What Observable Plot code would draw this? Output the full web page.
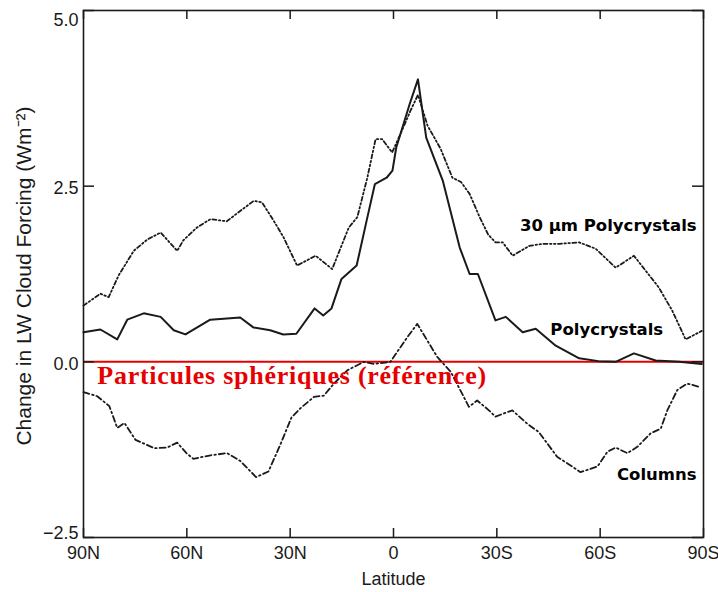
<!DOCTYPE html>
<html>
<head>
<meta charset="utf-8">
<script src="https://cdn.jsdelivr.net/npm/d3@7"></script>
<script src="https://cdn.jsdelivr.net/npm/@observablehq/plot@0.6"></script>
<style>
  html, body { margin: 0; padding: 0; background: #fff; }
  #chart svg { display: block; overflow: visible; }
</style>
</head>
<body>
<div id="chart"></div>
<script>
// Latitude: positive = North, negative = South
const polyLat = [90, 85.1, 80.2, 77.3, 72.5, 67.6, 63.8, 60.4, 53.2, 44.5, 40.7, 35.8, 32.0, 28.2, 22.9, 20.4, 18.0, 15.1, 10.7, 7.8, 5.4, 2.0, 0.3, -0.8, -4.7, -7.1, -9.5, -14.3, -19.2, -22.1, -24.5, -29.6, -32.6, -37.5, -41.3, -47.1, -53.9, -59.5, -64.5, -69.8, -76.1, -82.9, -89.5];
const polyVal = [0.42, 0.46, 0.32, 0.60, 0.69, 0.64, 0.45, 0.39, 0.60, 0.63, 0.49, 0.45, 0.39, 0.40, 0.76, 0.66, 0.76, 1.18, 1.37, 2.01, 2.53, 2.62, 2.72, 3.05, 3.67, 4.02, 3.19, 2.58, 1.63, 1.25, 1.25, 0.59, 0.64, 0.42, 0.47, 0.23, 0.05, 0.01, 0.00, 0.12, 0.02, 0.00, -0.03];

const poly30Lat = [90, 85.1, 82.7, 79.8, 75.4, 71.5, 67.6, 62.8, 61.0, 57.1, 53.2, 48.4, 45.5, 40.6, 38.2, 34.8, 31.9, 28.0, 22.6, 17.8, 13.0, 10.5, 7.6, 5.2, 3.3, 0.4, -2.0, -4.9, -7.1, -9.9, -13.7, -17.1, -19.6, -22.1, -25.0, -27.5, -29.6, -31.7, -34.6, -39.4, -43.3, -48.1, -53.9, -58.7, -64.5, -69.8, -77.0, -80.9, -84.8, -89.5];
const poly30Val = [0.80, 0.97, 0.92, 1.23, 1.58, 1.74, 1.84, 1.58, 1.73, 1.91, 2.03, 2.00, 2.11, 2.29, 2.27, 2.01, 1.77, 1.37, 1.51, 1.32, 1.91, 2.06, 2.62, 3.17, 3.17, 2.98, 3.24, 3.57, 3.80, 3.36, 3.03, 2.62, 2.56, 2.39, 2.06, 1.81, 1.70, 1.70, 1.51, 1.65, 1.68, 1.68, 1.70, 1.61, 1.34, 1.51, 1.06, 0.73, 0.32, 0.44];

const colLat = [90, 86.0, 82.5, 80.2, 78.1, 74.9, 69.4, 65.7, 62.8, 60.1, 58.1, 53.1, 48.3, 44.5, 39.9, 36.3, 32.7, 29.6, 27.0, 23.1, 20.2, 17.3, 13.4, 8.6, 5.7, 0.9, -4.0, -6.9, -12.7, -16.6, -21.9, -24.3, -27.7, -29.6, -34.5, -38.8, -42.2, -47.5, -54.3, -59.2, -62.1, -64.5, -67.9, -70.8, -74.6, -77.6, -79.5, -82.4, -85.3, -89.1];
const colVal = [-0.43, -0.49, -0.63, -0.94, -0.87, -1.11, -1.23, -1.22, -1.15, -1.30, -1.38, -1.33, -1.30, -1.41, -1.64, -1.56, -1.16, -0.79, -0.66, -0.50, -0.48, -0.31, -0.12, 0.00, -0.03, 0.00, 0.35, 0.54, 0.07, -0.14, -0.64, -0.55, -0.69, -0.78, -0.69, -0.88, -1.00, -1.35, -1.57, -1.49, -1.28, -1.22, -1.30, -1.21, -1.02, -0.95, -0.69, -0.40, -0.31, -0.36];

const referenceVal = [0];

const xTickValues = [90, 60, 30, 0, -30, -60, -90];
const xTickLabels = ["90N", "60N", "30N", "0", "30S", "60S", "90S"];
const yTickValues = [5, 2.5, 0, -2.5];
const yTickLabels = ["5.0", "2.5", "0.0", "\u22122.5"];

const seriesNames = ["30 µm Polycrystals", "Polycrystals", "Columns"];
const seriesLabelLat = [-88, -78.3, -88];
const seriesLabelVal = [1.93, 0.45, -1.61];
const referenceName = "Particules sphériques (référence)";
const referenceLabelLat = 86;
const referenceLabelVal = -0.19;

const xTitle = "Latitude";
const yTitle = "Change in LW Cloud Forcing (Wm\u207B\u00B2)";

const toRows = (lat, val) => lat.map((l, i) => ({lat: l, v: val[i]}));
const poly = toRows(polyLat, polyVal);
const poly30 = toRows(poly30Lat, poly30Val);
const col = toRows(colLat, colVal);
const labels = seriesNames.map((n, i) => ({name: n, lat: seriesLabelLat[i], v: seriesLabelVal[i]}));
const yTickRows = yTickValues.map((v, i) => ({v, label: yTickLabels[i]}));
const yDomain = [-2.5, 5];

const W = 718, H = 592;
const mL = 83, mR = 15, mT = 10, mB = 55;
const innerW = W - mL - mR, innerH = H - mT - mB;
const axisFont = "'Liberation Sans', Arial, sans-serif";
const ink = "#1a1a1a";
const tickText = {frameAnchor: "left", textAnchor: "end", dx: -5, fontSize: 18, fontFamily: axisFont, fill: ink, text: "label", y: "v"};

const chart = Plot.plot({
  width: W,
  height: H,
  marginLeft: mL,
  marginRight: mR,
  marginTop: mT,
  marginBottom: mB,
  style: {background: "#fff", color: ink, overflow: "visible"},
  x: {domain: [90, -90]},
  y: {domain: yDomain, axis: null},
  marks: [
    // reference line
    Plot.ruleY(referenceVal, {stroke: "#e60000", strokeWidth: 2}),
    // curves
    Plot.line(poly30, {x: "lat", y: "v", stroke: ink, strokeWidth: 1.8, strokeDasharray: "4,2.5,1.5,2.5,1.5,2.5"}),
    Plot.line(col, {x: "lat", y: "v", stroke: ink, strokeWidth: 1.8, strokeDasharray: "6,3,1.5,3"}),
    Plot.line(poly, {x: "lat", y: "v", stroke: ink, strokeWidth: 2}),
    // frame
    Plot.frame({stroke: ink, strokeWidth: 1.6}),
    // inward ticks
    Plot.ruleX(xTickValues, {stroke: ink, strokeWidth: 1.5, insetTop: innerH - 9}),
    Plot.ruleX(xTickValues, {stroke: ink, strokeWidth: 1.5, insetBottom: innerH - 9}),
    Plot.ruleY(yTickValues, {stroke: ink, strokeWidth: 1.5, insetRight: innerW - 11}),
    Plot.ruleY(yTickValues, {stroke: ink, strokeWidth: 1.5, insetLeft: innerW - 11}),
    // x tick labels
    Plot.axisX({
      ticks: xTickValues,
      tickFormat: (d) => xTickLabels[xTickValues.indexOf(d)],
      tickSize: 0,
      tickPadding: 9,
      label: null,
      fontSize: 18,
      fontFamily: axisFont,
      fill: ink
    }),
    // y tick labels (end labels kept inside the frame height, as in the original)
    Plot.text(yTickRows.filter((d) => d.v === yDomain[1]), {...tickText, lineAnchor: "top", dy: 3}),
    Plot.text(yTickRows.filter((d) => d.v > yDomain[0] && d.v < yDomain[1]), {...tickText, lineAnchor: "middle", dy: 2}),
    Plot.text(yTickRows.filter((d) => d.v === yDomain[0]), {...tickText, lineAnchor: "bottom", dy: 1}),
    Plot.text([xTitle], {
      frameAnchor: "bottom", dy: 42, lineAnchor: "middle",
      fontSize: 18, fontFamily: axisFont, fill: ink
    }),
    Plot.text([yTitle], {
      frameAnchor: "left", rotate: -90, dx: -59, dy: 2, textAnchor: "middle", lineAnchor: "middle",
      fontSize: 21, fontFamily: axisFont, fill: ink
    }),
    // series labels
    Plot.text(labels, {
      x: "lat", y: "v", text: "name", textAnchor: "end", lineAnchor: "middle",
      fontSize: 16.5, fontWeight: "bold", fontFamily: "'DejaVu Sans', Verdana, sans-serif", fill: "#000"
    }),
    Plot.text([referenceName], {
      x: () => referenceLabelLat, y: () => referenceLabelVal, textAnchor: "start", lineAnchor: "middle",
      fontSize: 26, fontWeight: "bold", fontFamily: "'Liberation Serif', 'Times New Roman', serif", fill: "#e60000",
      className: "ref-label"
    })
  ]
});
d3.select(chart).selectAll(".ref-label text").attr("letter-spacing", "0.75px");
document.getElementById("chart").appendChild(chart);
</script>
</body>
</html>
